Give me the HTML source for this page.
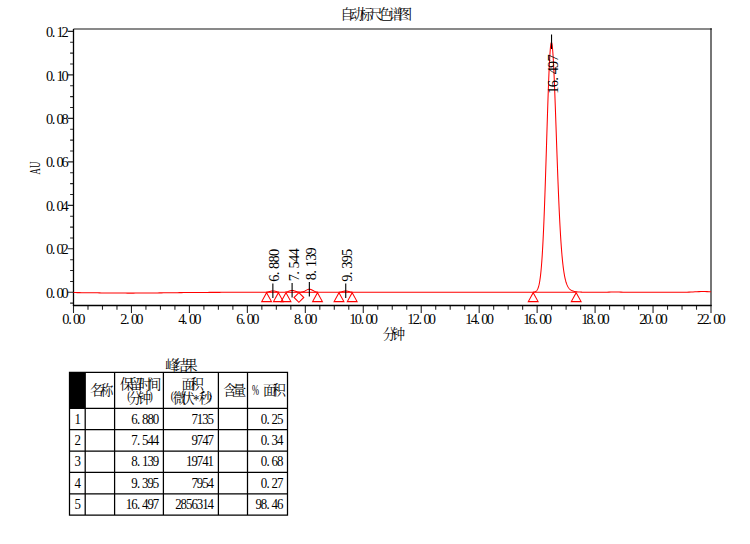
<!DOCTYPE html>
<html lang="zh"><head><meta charset="utf-8"><title>自动标尺色谱图</title>
<style>html,body{margin:0;padding:0;background:#fff}body{width:750px;height:544px;overflow:hidden}svg{display:block}text{font-family:"Liberation Serif","Noto Serif CJK SC",serif;white-space:pre}</style></head><body>
<svg width="750" height="544" viewBox="0 0 750 544">
<rect width="750" height="544" fill="#fff"/>
<text x="340.19 349.96 359.73 369.5 379.27 389.04 398.81" y="19.09" font-size="13.4" fill="#000">自动标尺色谱图</text>
<g fill="none" stroke-width="1">
<path d="M73.5 29H711.8" stroke="#000" stroke-opacity=".62" stroke-width="1.6"/>
<path d="M711 28.2V306" stroke="#000" stroke-opacity=".8" stroke-width="1.35"/>
<path d="M73.5 29V306.1" stroke="#000" stroke-width="1.3"/>
<path d="M72.9 305.5H711.6" stroke="#000" stroke-width="1.3"/>
</g>
<path d="M70.1 303.17H73.5M67.7 292.3H73.5M70.1 281.43H73.5M70.1 270.56H73.5M70.1 259.69H73.5M67.7 248.82H73.5M70.1 237.95H73.5M70.1 227.08H73.5M70.1 216.21H73.5M67.7 205.34H73.5M70.1 194.47H73.5M70.1 183.6H73.5M70.1 172.73H73.5M67.7 161.86H73.5M70.1 150.99H73.5M70.1 140.12H73.5M70.1 129.25H73.5M67.7 118.38H73.5M70.1 107.51H73.5M70.1 96.64H73.5M70.1 85.77H73.5M67.7 74.9H73.5M70.1 64.03H73.5M70.1 53.16H73.5M70.1 42.29H73.5M67.7 31.42H73.5M73.5 305.5V312.9M87.99 305.5V309.7M102.48 305.5V309.7M116.97 305.5V309.7M131.45 305.5V312.9M145.94 305.5V309.7M160.43 305.5V309.7M174.92 305.5V309.7M189.41 305.5V312.9M203.9 305.5V309.7M218.39 305.5V309.7M232.88 305.5V309.7M247.36 305.5V312.9M261.85 305.5V309.7M276.34 305.5V309.7M290.83 305.5V309.7M305.32 305.5V312.9M319.81 305.5V309.7M334.3 305.5V309.7M348.78 305.5V309.7M363.27 305.5V312.9M377.76 305.5V309.7M392.25 305.5V309.7M406.74 305.5V309.7M421.23 305.5V312.9M435.72 305.5V309.7M450.2 305.5V309.7M464.69 305.5V309.7M479.18 305.5V312.9M493.67 305.5V309.7M508.16 305.5V309.7M522.65 305.5V309.7M537.14 305.5V312.9M551.62 305.5V309.7M566.11 305.5V309.7M580.6 305.5V309.7M595.09 305.5V312.9M609.58 305.5V309.7M624.07 305.5V309.7M638.56 305.5V309.7M653.05 305.5V312.9M667.53 305.5V309.7M682.02 305.5V309.7M696.51 305.5V309.7M711 305.5V312.9" fill="none" stroke="#000" stroke-opacity=".85" stroke-width="1.1"/>
<text transform="translate(67.8,297.9)" x="-21.8 -16 -11.4 -6.2" font-size="14.4" fill="#000">0.00</text>
<text transform="translate(67.8,254.42)" x="-21.8 -16 -11.4 -6.2" font-size="14.4" fill="#000">0.02</text>
<text transform="translate(67.8,210.94)" x="-21.8 -16 -11.4 -6.2" font-size="14.4" fill="#000">0.04</text>
<text transform="translate(67.8,167.46)" x="-21.8 -16 -11.4 -6.2" font-size="14.4" fill="#000">0.06</text>
<text transform="translate(67.8,123.98)" x="-21.8 -16 -11.4 -6.2" font-size="14.4" fill="#000">0.08</text>
<text transform="translate(67.8,80.5)" x="-21.8 -16 -11.4 -6.2" font-size="14.4" fill="#000">0.10</text>
<text transform="translate(67.8,37.02)" x="-21.8 -16 -11.4 -6.2" font-size="14.4" fill="#000">0.12</text>
<text transform="translate(73.9,323.9)" x="-11.62 -5.75 -0.93 4.42" font-size="14.4" fill="#000">0.00</text>
<text transform="translate(131.85,323.9)" x="-11.62 -5.75 -0.93 4.42" font-size="14.4" fill="#000">2.00</text>
<text transform="translate(189.81,323.9)" x="-11.62 -5.75 -0.93 4.42" font-size="14.4" fill="#000">4.00</text>
<text transform="translate(247.76,323.9)" x="-11.62 -5.75 -0.93 4.42" font-size="14.4" fill="#000">6.00</text>
<text transform="translate(305.72,323.9)" x="-11.62 -5.75 -0.93 4.42" font-size="14.4" fill="#000">8.00</text>
<text transform="translate(363.67,323.9)" x="-14.3 -8.95 -3.08 1.75 7.1" font-size="14.4" fill="#000">10.00</text>
<text transform="translate(421.63,323.9)" x="-14.3 -8.95 -3.08 1.75 7.1" font-size="14.4" fill="#000">12.00</text>
<text transform="translate(479.58,323.9)" x="-14.3 -8.95 -3.08 1.75 7.1" font-size="14.4" fill="#000">14.00</text>
<text transform="translate(537.54,323.9)" x="-14.3 -8.95 -3.08 1.75 7.1" font-size="14.4" fill="#000">16.00</text>
<text transform="translate(595.49,323.9)" x="-14.3 -8.95 -3.08 1.75 7.1" font-size="14.4" fill="#000">18.00</text>
<text transform="translate(653.45,323.9)" x="-14.3 -8.95 -3.08 1.75 7.1" font-size="14.4" fill="#000">20.00</text>
<text transform="translate(711.4,323.9)" x="-14.3 -8.95 -3.08 1.75 7.1" font-size="14.4" fill="#000">22.00</text>
<text transform="translate(40.3,174.6) rotate(-90) scale(0.6,1)" font-size="14.6" x="0 11.17">AU</text>
<text x="382.78 391.7" y="339.49" font-size="13.4" fill="#000">分钟</text>
<path fill="none" stroke="#f00" stroke-width="1.05" stroke-linejoin="round" d="M73.5 292.56L75.5 292.59L77.5 292.61L79.5 292.63L81.5 292.65L83.5 292.68L85.5 292.7L87.5 292.73L89.5 292.75L91.5 292.78L93.5 292.8L95.5 292.83L97.5 292.85L99.5 292.88L101.5 292.9L103.5 292.93L105.5 292.95L107.5 292.97L109.5 292.99L111.5 293.01L113.5 293.03L115.5 293.04L117.5 293.06L119.5 293.07L121.5 293.08L123.5 293.09L125.5 293.09L127.5 293.1L129.5 293.1L131.5 293.1L133.5 293.1L135.5 293.09L137.5 293.08L139.5 293.08L141.5 293.06L143.5 293.05L145.5 293.04L147.5 293.02L149.5 293L151.5 292.98L153.5 292.96L155.5 292.94L157.5 292.92L159.5 292.89L161.5 292.87L163.5 292.84L165.5 292.82L167.5 292.79L169.5 292.77L171.5 292.74L173.5 292.72L175.5 292.69L177.5 292.67L179.5 292.64L181.5 292.62L183.5 292.6L185.5 292.58L187.5 292.55L189.5 292.53L191.5 292.52L193.5 292.5L195.5 292.48L197.5 292.47L199.5 292.45L201.5 292.44L203.5 292.42L205.5 292.41L207.5 292.4L209.5 292.39L211.5 292.38L213.5 292.37L215.5 292.36L217.5 292.36L219.5 292.35L221.5 292.34L223.5 292.34L225.5 292.33L227.5 292.33L229.5 292.33L231.5 292.32L233.5 292.32L235.5 292.32L237.5 292.31L239.5 292.31L241.5 292.31L243.5 292.31L245.5 292.31L247.5 292.31L249.5 292.31L251.5 292.3L253.5 292.3L255.5 292.3L256 292.3L256.5 292.3L257 292.3L257.5 292.3L258 292.3L258.5 292.3L259 292.3L259.5 292.3L260 292.3L260.5 292.3L261 292.3L261.5 292.3L262 292.3L262.5 292.3L263 292.3L263.5 292.29L264 292.28L264.5 292.27L265 292.26L265.5 292.23L266 292.2L266.5 292.15L267 292.09L267.5 292.02L268 291.92L268.5 291.81L269 291.69L269.5 291.55L270 291.41L270.5 291.27L271 291.15L271.5 291.04L272 290.96L272.5 290.91L273 290.9L273.5 290.93L274 291L274.5 291.09L275 291.21L275.5 291.35L276 291.49L276.5 291.63L277 291.76L277.5 291.88L278 291.98L278.5 292.06L279 292.13L279.5 292.18L280 292.22L280.5 292.24L281 292.26L281.5 292.27L282 292.28L282.5 292.28L283 292.27L283.5 292.26L284 292.24L284.5 292.21L285 292.16L285.5 292.1L286 292.03L286.5 291.93L287 291.81L287.5 291.67L288 291.51L288.5 291.33L289 291.15L289.5 290.97L290 290.79L290.5 290.64L291 290.52L291.5 290.44L292 290.4L292.5 290.42L293 290.48L293.5 290.58L294 290.72L294.5 290.89L295 291.07L295.5 291.26L296 291.44L296.5 291.6L297 291.75L297.5 291.88L298 291.98L298.5 292.05L299 292.11L299.5 292.14L300 292.15L300.5 292.15L301 292.12L301.5 292.06L302 291.99L302.5 291.88L303 291.75L303.5 291.59L304 291.4L304.5 291.18L305 290.93L305.5 290.66L306 290.39L306.5 290.12L307 289.86L307.5 289.62L308 289.43L308.5 289.29L309 289.22L309.5 289.2L310 289.26L310.5 289.37L311 289.55L311.5 289.76L312 290.01L312.5 290.28L313 290.56L313.5 290.83L314 291.09L314.5 291.32L315 291.52L315.5 291.7L316 291.84L316.5 291.96L317 292.05L317.5 292.13L318 292.18L318.5 292.22L319 292.24L319.5 292.26L320 292.28L320.5 292.29L321 292.29L321.5 292.29L322 292.3L322.5 292.3L323 292.3L323.5 292.3L324 292.3L324.5 292.3L325 292.3L325.5 292.3L326 292.3L326.5 292.3L327 292.3L327.5 292.3L328 292.3L328.5 292.3L329 292.3L329.5 292.3L330 292.3L330.5 292.3L331 292.3L331.5 292.3L332 292.3L332.5 292.3L333 292.3L333.5 292.3L334 292.3L334.5 292.3L335 292.3L335.5 292.3L336 292.29L336.5 292.29L337 292.28L337.5 292.27L338 292.25L338.5 292.23L339 292.2L339.5 292.15L340 292.09L340.5 292.02L341 291.93L341.5 291.82L342 291.7L342.5 291.57L343 291.44L343.5 291.32L344 291.2L344.5 291.11L345 291.04L345.5 291L346 291L346.5 291.04L347 291.11L347.5 291.21L348 291.32L348.5 291.45L349 291.58L349.5 291.71L350 291.83L350.5 291.93L351 292.02L351.5 292.09L352 292.15L352.5 292.2L353 292.23L353.5 292.25L354 292.27L354.5 292.28L355 292.29L355.5 292.29L356 292.3L356.5 292.3L357 292.3L357.5 292.3L358 292.3L358.5 292.3L359 292.3L359.5 292.3L360 292.3L360.5 292.3L361 292.3L361.5 292.3L362 292.3L362.5 292.3L363 292.3L363.5 292.3L364 292.3L364.5 292.3L365 292.3L367 292.3L369 292.3L371 292.3L373 292.3L375 292.3L377 292.3L379 292.3L381 292.3L383 292.3L385 292.3L387 292.3L389 292.3L391 292.3L393 292.3L395 292.3L397 292.3L399 292.3L401 292.3L403 292.3L405 292.3L407 292.3L409 292.3L411 292.3L413 292.3L415 292.3L417 292.3L419 292.3L421 292.3L423 292.3L425 292.3L427 292.3L429 292.3L431 292.3L433 292.3L435 292.3L437 292.3L439 292.3L441 292.3L443 292.3L445 292.3L447 292.3L449 292.3L451 292.3L453 292.3L455 292.3L457 292.3L459 292.3L461 292.3L463 292.3L465 292.3L467 292.3L469 292.3L471 292.3L473 292.3L475 292.3L477 292.3L479 292.3L481 292.3L483 292.3L485 292.3L487 292.3L489 292.3L491 292.3L493 292.3L495 292.3L497 292.3L499 292.3L501 292.3L503 292.3L505 292.3L507 292.3L509 292.3L511 292.3L513 292.3L515 292.3L517 292.3L519 292.3L521 292.3L523 292.3L525 292.3L527 292.3L527.25 292.3L527.5 292.3L527.75 292.3L528 292.3L528.25 292.3L528.5 292.3L528.75 292.3L529 292.3L529.25 292.3L529.5 292.3L529.75 292.3L530 292.29L530.25 292.29L530.5 292.29L530.75 292.29L531 292.29L531.25 292.28L531.5 292.28L531.75 292.27L532 292.26L532.25 292.25L532.5 292.24L532.75 292.23L533 292.21L533.25 292.19L533.5 292.16L533.75 292.12L534 292.08L534.25 292.03L534.5 291.97L534.75 291.9L535 291.82L535.25 291.71L535.5 291.59L535.75 291.44L536 291.27L536.25 291.06L536.5 290.82L536.75 290.54L537 290.21L537.25 289.83L537.5 289.38L537.75 288.87L538 288.28L538.25 287.6L538.5 286.82L538.75 285.93L539 284.93L539.25 283.79L539.5 282.5L539.75 281.05L540 279.43L540.25 277.63L540.5 275.62L540.75 273.39L541 270.93L541.25 268.22L541.5 265.26L541.75 262.02L542 258.5L542.25 254.68L542.5 250.56L542.75 246.12L543 241.37L543.25 236.3L543.5 230.91L543.75 225.2L544 219.18L544.25 212.86L544.5 206.25L544.75 199.36L545 192.22L545.25 184.86L545.5 177.29L545.75 169.55L546 161.67L546.25 153.69L546.5 145.65L546.75 137.6L547 129.58L547.25 121.63L547.5 113.82L547.75 106.17L548 98.76L548.25 91.62L548.5 84.8L548.75 78.35L549 72.33L549.25 66.76L549.5 61.69L549.75 57.16L550 53.19L550.25 49.82L550.5 47.07L550.75 44.95L551 43.47L551.25 42.65L551.5 42.49L551.75 42.98L552 44.11L552.25 45.87L552.5 48.23L552.75 51.18L553 54.69L553.25 58.72L553.5 63.24L553.75 68.21L554 73.59L554.25 79.35L554.5 85.43L554.75 91.79L555 98.4L555.25 105.19L555.5 112.14L555.75 119.2L556 126.33L556.25 133.49L556.5 140.65L556.75 147.76L557 154.81L557.25 161.75L557.5 168.57L557.75 175.23L558 181.73L558.25 188.04L558.5 194.14L558.75 200.03L559 205.7L559.25 211.13L559.5 216.33L559.75 221.28L560 226L560.25 230.47L560.5 234.71L560.75 238.71L561 242.48L561.25 246.04L561.5 249.37L561.75 252.5L562 255.42L562.25 258.16L562.5 260.71L562.75 263.08L563 265.29L563.25 267.35L563.5 269.25L563.75 271.02L564 272.66L564.25 274.17L564.5 275.57L564.75 276.86L565 278.06L565.25 279.16L565.5 280.18L565.75 281.11L566 281.98L566.25 282.77L566.5 283.51L566.75 284.18L567 284.8L567.25 285.37L567.5 285.9L567.75 286.38L568 286.83L568.25 287.24L568.5 287.61L568.75 287.96L569 288.28L569.25 288.58L569.5 288.85L569.75 289.1L570 289.33L570.25 289.54L570.5 289.74L570.75 289.92L571 290.09L571.25 290.24L571.5 290.38L571.75 290.51L572 290.64L572.25 290.75L572.5 290.85L572.75 290.95L573 291.04L573.25 291.12L573.5 291.2L573.75 291.27L574 291.34L574.25 291.4L574.5 291.45L574.75 291.51L575 291.56L575.25 291.6L575.5 291.65L575.75 291.69L576 291.72L576.25 291.76L576.5 291.79L576.75 291.82L577 291.85L577.25 291.87L577.5 291.9L577.75 291.92L578 291.94L578.25 291.96L578.5 291.98L578.75 292L579 292.02L579.25 292.03L579.5 292.05L579.75 292.06L580 292.07L580.25 292.09L580.5 292.1L580.75 292.11L581 292.12L581.25 292.13L581.5 292.14L581.75 292.14L582 292.15L582.25 292.16L582.5 292.17L582.75 292.17L583 292.18L583.25 292.19L583.5 292.19L583.75 292.2L584 292.2L584.25 292.21L584.5 292.21L584.75 292.22L585 292.22L587 292.25L589 292.26L591 292.28L593 292.28L595 292.29L597 292.29L599 292.29L601 292.28L603 292.26L605 292.22L607 292.18L609 292.12L611 292.06L613 292.02L615 292L617 292.02L619 292.06L621 292.12L623 292.18L625 292.23L627 292.26L629 292.28L631 292.29L633 292.3L635 292.3L637 292.3L639 292.3L641 292.3L643 292.3L645 292.3L647 292.3L649 292.3L651 292.3L653 292.3L655 292.3L657 292.3L659 292.3L661 292.3L663 292.3L665 292.3L667 292.3L669 292.3L671 292.3L673 292.3L675 292.3L677 292.3L679 292.29L681 292.28L683 292.27L685 292.24L687 292.2L689 292.14L691 292.06L693 291.96L695 291.85L697 291.73L699 291.64L701 291.57L703 291.55L705 291.57L707 291.64L709 291.73L711 291.85"/>
<g fill="none" stroke="#f00" stroke-width="1.05">
<path d="M266.6 292.3H278.4"/>
<path d="M286 292.3H317.5"/>
<path d="M339 292.3H352.2"/>
<path d="M533.2 292.3H576.2"/>
<path d="M266.6 292.7L271.5 301.6H261.7Z"/>
<path d="M278.4 292.7L283.3 301.6H273.5Z"/>
<path d="M286 292.7L290.9 301.6H281.1Z"/>
<path d="M317.5 292.7L322.4 301.6H312.6Z"/>
<path d="M339 292.7L343.9 301.6H334.1Z"/>
<path d="M352.2 292.7L357.1 301.6H347.3Z"/>
<path d="M533.2 292.7L538.1 301.6H528.3Z"/>
<path d="M576.2 292.7L581.1 301.6H571.3Z"/>
<path d="M298.9 292.7L303.8 297.5L298.9 302.3L294 297.5Z"/>
</g>
<path d="M272.86 283.6V298M292.1 283.1V297.5M309.35 282V296.4M345.74 283.5V297.9M551.54 34.5V48.9" fill="none" stroke="#000" stroke-width="1.1"/>
<text transform="translate(279.46,281.4) rotate(-90)" x="-0.38 6.05 12.53 18.98 25.43" font-size="14.4" fill="#000">6.880</text>
<text transform="translate(298.7,280.9) rotate(-90)" x="-0.38 6.05 12.53 18.98 25.43" font-size="14.4" fill="#000">7.544</text>
<text transform="translate(315.95,279.8) rotate(-90)" x="-0.38 6.05 12.53 18.98 25.43" font-size="14.4" fill="#000">8.139</text>
<text transform="translate(352.34,281.3) rotate(-90)" x="-0.38 6.05 12.53 18.98 25.43" font-size="14.4" fill="#000">9.395</text>
<text transform="translate(558.14,93.3) rotate(-90)" x="-0.38 6.08 12.5 18.98 25.43 31.88" font-size="14.4" fill="#000">16.497</text>
<text x="165.21 174.73 184.26" y="369.79" font-size="13.4" fill="#000">峰结果</text>
<rect x="69.5" y="372.4" width="15.7" height="35.9" fill="#000"/>
<path d="M69.5 371.8V515.8M85.2 371.8V515.8M114.6 371.8V515.8M163.4 371.8V515.8M218.4 371.8V515.8M247.5 371.8V515.8M287.5 371.8V515.8M68.9 372.4H288.1M68.9 408.3H288.1M68.9 429.6H288.1M68.9 451H288.1M68.9 472.4H288.1M68.9 493.8H288.1M68.9 515.2H288.1" fill="none" stroke="#000" stroke-width="1.25"/>
<text x="90.09 99.98" y="395.09" font-size="13.4" fill="#000">名称</text>
<text x="120.12 129.45 138.78 148.11" y="388.59" font-size="13.4" fill="#000">保留时间</text>
<text x="128.58 137.8" y="402.89" font-size="13.4" fill="#000">分钟</text>
<text x="181.58 190.57" y="389.09" font-size="13.4" fill="#000">面积</text>
<text x="172.68 181.13" y="402.99" font-size="13.4" fill="#000">微伏</text>
<text x="198.69" y="402.99" font-size="13.4" fill="#000">秒</text>
<text x="223.19 232.63" y="394.99" font-size="13.4" fill="#000">含量</text>
<text x="262.98 272.57" y="395.09" font-size="13.4" fill="#000">面积</text>
<g font-size="14">
<text transform="translate(127.2,400.0) scale(0.7,0.95)">(</text>
<text transform="translate(149.4,400.0) scale(0.7,0.95)">)</text>
<text transform="translate(170.8,400.0) scale(0.7,0.95)">(</text>
<text transform="translate(208.6,400.0) scale(0.7,0.95)">)</text>
<text transform="translate(192.9,405.2) scale(0.9,1.1)">*</text>
<text transform="translate(252.0,395.0) scale(0.6,1)">%</text>
</g>
<text transform="translate(77.7,423.6) scale(0.95,1)" x="-3.4" font-size="13.6" fill="#000">1</text>
<text transform="translate(158.7,423.6) scale(0.95,1)" x="-28.98 -22.96 -17.61 -11.93 -6.24" font-size="13.6" fill="#000">6.880</text>
<text transform="translate(213.5,423.6) scale(0.95,1)" x="-23.29 -17.61 -11.93 -6.24" font-size="13.6" fill="#000">7135</text>
<text transform="translate(282.9,423.6) scale(0.95,1)" x="-23.29 -17.28 -11.93 -6.24" font-size="13.6" fill="#000">0.25</text>
<text transform="translate(77.7,444.9) scale(0.95,1)" x="-3.4" font-size="13.6" fill="#000">2</text>
<text transform="translate(158.7,444.9) scale(0.95,1)" x="-28.98 -22.96 -17.61 -11.93 -6.24" font-size="13.6" fill="#000">7.544</text>
<text transform="translate(213.5,444.9) scale(0.95,1)" x="-23.29 -17.61 -11.93 -6.24" font-size="13.6" fill="#000">9747</text>
<text transform="translate(282.9,444.9) scale(0.95,1)" x="-23.29 -17.28 -11.93 -6.24" font-size="13.6" fill="#000">0.34</text>
<text transform="translate(77.7,466.3) scale(0.95,1)" x="-3.4" font-size="13.6" fill="#000">3</text>
<text transform="translate(158.7,466.3) scale(0.95,1)" x="-28.98 -22.96 -17.61 -11.93 -6.24" font-size="13.6" fill="#000">8.139</text>
<text transform="translate(213.5,466.3) scale(0.95,1)" x="-28.98 -23.29 -17.61 -11.93 -6.24" font-size="13.6" fill="#000">19741</text>
<text transform="translate(282.9,466.3) scale(0.95,1)" x="-23.29 -17.28 -11.93 -6.24" font-size="13.6" fill="#000">0.68</text>
<text transform="translate(77.7,487.7) scale(0.95,1)" x="-3.4" font-size="13.6" fill="#000">4</text>
<text transform="translate(158.7,487.7) scale(0.95,1)" x="-28.98 -22.96 -17.61 -11.93 -6.24" font-size="13.6" fill="#000">9.395</text>
<text transform="translate(213.5,487.7) scale(0.95,1)" x="-23.29 -17.61 -11.93 -6.24" font-size="13.6" fill="#000">7954</text>
<text transform="translate(282.9,487.7) scale(0.95,1)" x="-23.29 -17.28 -11.93 -6.24" font-size="13.6" fill="#000">0.27</text>
<text transform="translate(77.7,509.1) scale(0.95,1)" x="-3.4" font-size="13.6" fill="#000">5</text>
<text transform="translate(158.7,509.1) scale(0.95,1)" x="-34.66 -28.98 -22.96 -17.61 -11.93 -6.24" font-size="13.6" fill="#000">16.497</text>
<text transform="translate(213.5,509.1) scale(0.95,1)" x="-40.35 -34.66 -28.98 -23.29 -17.61 -11.93 -6.24" font-size="13.6" fill="#000">2856314</text>
<text transform="translate(282.9,509.1) scale(0.95,1)" x="-28.98 -23.29 -17.28 -11.93 -6.24" font-size="13.6" fill="#000">98.46</text>
</svg></body></html>
